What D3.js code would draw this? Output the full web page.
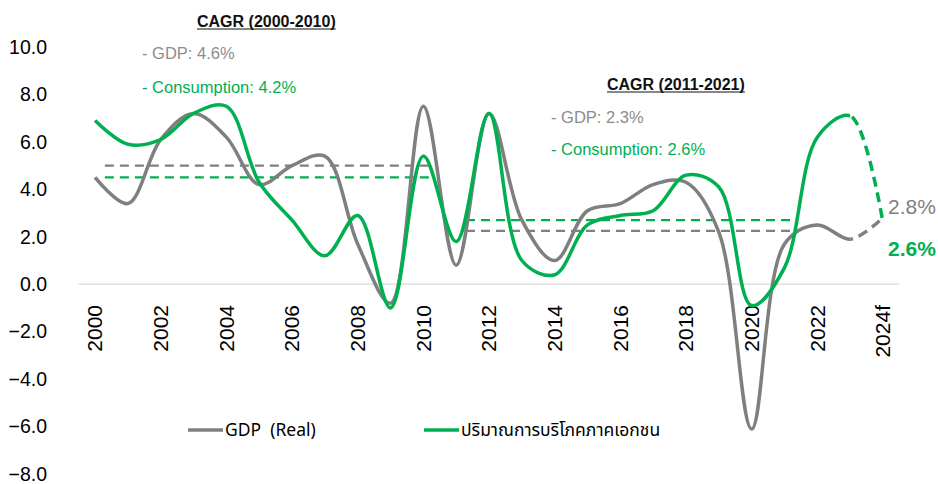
<!DOCTYPE html>
<html>
<head>
<meta charset="utf-8">
<script src="https://cdn.jsdelivr.net/npm/d3@7"></script>
<style>
  body { margin: 0; background: #fff; }
  svg { font-family: "Liberation Sans", Arial, Helvetica, sans-serif; }
</style>
</head>
<body>
<div id="chart"></div>
<script>
// data
const years = [2000, 2001, 2002, 2003, 2004, 2005, 2006, 2007, 2008, 2009, 2010, 2011,
  2012, 2013, 2014, 2015, 2016, 2017, 2018, 2019, 2020, 2021, 2022, 2023, 2024];
const gdp = [4.5, 3.4, 6.1, 7.2, 6.2, 4.2, 5.0, 5.4, 1.7, -0.8, 7.5, 0.8,
  7.2, 2.7, 1.0, 3.1, 3.4, 4.2, 4.3, 2.2, -6.1, 1.7, 2.5, 1.9, 2.8];
const consumption = [6.9, 5.9, 6.1, 7.2, 7.5, 4.3, 2.7, 1.2, 2.9, -1.0, 5.4, 1.8,
  7.2, 1.0, 0.4, 2.5, 2.9, 3.1, 4.6, 4.1, -0.9, 0.7, 6.2, 7.1, 2.6];

const tickYears = [2000, 2002, 2004, 2006, 2008, 2010, 2012, 2014, 2016, 2018, 2020, 2022, 2024];
const tickLabels = ["2000", "2002", "2004", "2006", "2008", "2010", "2012", "2014", "2016", "2018", "2020", "2022", "2024f"];
const yTicks = [-8, -6, -4, -2, 0, 2, 4, 6, 8, 10];

// CAGR boxes
const cagrTitles = ["CAGR (2000-2010)", "CAGR (2011-2021)"];
const cagrGdp = [4.6, 2.3];
const cagrCons = [4.2, 2.6];
const cagrLineGdp = [5.0, 2.25];
const cagrLineCons = [4.5, 2.7];
const cagrFrom = [2000.3, 2011.3];
const cagrTo = [2010.3, 2021.25];

const W = 938, H = 484;
const GREY = "#7f7f7f", GREEN = "#00b050";

const svg = d3.select("#chart").append("svg")
  .attr("width", W)
  .attr("height", H);

const x = d3.scaleLinear().domain([1999.5, 2024.5]).range([78.6, 899.4]);
const y = d3.scaleLinear().domain([-8, 10]).range([474, 47]);

// y labels
svg.append("g").selectAll("text")
  .data(yTicks)
  .enter().append("text")
  .attr("x", 47)
  .attr("y", d => y(d))
  .attr("dy", "0.35em")
  .attr("text-anchor", "end")
  .attr("font-size", 19.5)
  .attr("fill", "#000")
  .text(d => d3.format(".1f")(d));

// zero line
svg.append("line")
  .attr("x1", x.range()[0]).attr("x2", x.range()[1])
  .attr("y1", y(0)).attr("y2", y(0))
  .attr("stroke", "#d9d9d9")
  .attr("stroke-width", 1.2);

// x labels, rotated
svg.append("g").selectAll("text")
  .data(tickYears)
  .enter().append("text")
  .attr("transform", d => `translate(${x(d)},305) rotate(-90)`)
  .attr("dy", "0.35em")
  .attr("text-anchor", "end")
  .attr("font-size", 21)
  .attr("fill", "#000")
  .text((d, i) => tickLabels[i]);

// CAGR dashed levels
const cagrIdx = d3.range(cagrTitles.length);
svg.append("g").selectAll("line")
  .data(cagrIdx)
  .enter().append("line")
  .attr("x1", i => x(cagrFrom[i])).attr("x2", i => x(cagrTo[i]))
  .attr("y1", i => y(cagrLineGdp[i])).attr("y2", i => y(cagrLineGdp[i]))
  .attr("stroke", GREY).attr("stroke-width", 2.2)
  .attr("stroke-dasharray", "9,6");
svg.append("g").selectAll("line")
  .data(cagrIdx)
  .enter().append("line")
  .attr("x1", i => x(cagrFrom[i])).attr("x2", i => x(cagrTo[i]))
  .attr("y1", i => y(cagrLineCons[i])).attr("y2", i => y(cagrLineCons[i]))
  .attr("stroke", GREEN).attr("stroke-width", 2.2)
  .attr("stroke-dasharray", "9,6");

// series: solid up to 2023, dashed forecast after
const splitX = x(2023);
const defs = svg.append("defs");
defs.append("clipPath").attr("id", "clipSolid")
  .append("rect").attr("x", 0).attr("y", 0).attr("width", splitX).attr("height", H);
defs.append("clipPath").attr("id", "clipDash")
  .append("rect").attr("x", splitX).attr("y", 0).attr("width", W - splitX).attr("height", H);

const line = d3.line()
  .x((d, i) => x(years[i]))
  .y(d => y(d))
  .curve(d3.curveCatmullRom.alpha(0.5));

const series = [
  { values: gdp, color: GREY },
  { values: consumption, color: GREEN }
];

series.forEach(s => {
  svg.append("path")
    .attr("d", line(s.values))
    .attr("fill", "none")
    .attr("stroke", s.color)
    .attr("stroke-width", 3.5)
    .attr("stroke-linejoin", "round")
    .attr("clip-path", "url(#clipSolid)");
  svg.append("path")
    .attr("d", line(s.values))
    .attr("fill", "none")
    .attr("stroke", s.color)
    .attr("stroke-width", 3.5)
    .attr("stroke-dasharray", "10,6")
    .attr("clip-path", "url(#clipDash)");
});

// end labels
svg.append("text")
  .attr("x", 888).attr("y", 207).attr("dy", "0.35em")
  .attr("font-size", 21).attr("fill", GREY)
  .text(gdp[gdp.length - 1].toFixed(1) + "%");
svg.append("text")
  .attr("x", 888).attr("y", 249).attr("dy", "0.35em")
  .attr("font-size", 21).attr("font-weight", "bold").attr("fill", GREEN)
  .text(consumption[consumption.length - 1].toFixed(1) + "%");

// CAGR annotations
const cagrPos = [
  { tx: 197, ty: 21, lx: 142, gy: 53, cy: 87 },
  { tx: 607, ty: 84, lx: 551, gy: 117, cy: 149 }
];
cagrIdx.forEach(i => {
  const p = cagrPos[i];
  const t = svg.append("text")
    .attr("x", p.tx).attr("y", p.ty).attr("dy", "0.35em")
    .attr("font-size", 16).attr("font-weight", "bold")
    .attr("fill", "#111")
    .text(cagrTitles[i]);
  const w = t.node().getComputedTextLength();
  svg.append("line")
    .attr("x1", p.tx).attr("x2", p.tx + w)
    .attr("y1", p.ty + 8).attr("y2", p.ty + 8)
    .attr("stroke", "#111").attr("stroke-width", 1.2);
  svg.append("text")
    .attr("x", p.lx).attr("y", p.gy).attr("dy", "0.35em")
    .attr("font-size", 16.5).attr("fill", "#8c8c8c")
    .text("- GDP: " + cagrGdp[i].toFixed(1) + "%");
  svg.append("text")
    .attr("x", p.lx).attr("y", p.cy).attr("dy", "0.35em")
    .attr("font-size", 16.5).attr("fill", GREEN)
    .text("- Consumption: " + cagrCons[i].toFixed(1) + "%");
});

// legend
const legend = [
  { label: "GDP  (Real)", color: GREY, x: 188 },
  { label: "ปริมาณการบริโภคภาคเอกชน", color: GREEN, x: 424 }
];
const lg = svg.append("g").selectAll("g")
  .data(legend)
  .enter().append("g")
  .attr("transform", d => `translate(${d.x},430)`);
lg.append("line")
  .attr("x1", 0).attr("x2", 35)
  .attr("stroke", d => d.color).attr("stroke-width", 3.5);
lg.append("text")
  .attr("x", 37).attr("dy", "0.35em")
  .attr("font-size", 17.5)
  .attr("font-family", "'Noto Sans Thai', 'Liberation Sans', Arial, sans-serif")
  .attr("fill", "#000")
  .style("white-space", "pre")
  .text(d => d.label);
</script>
</body>
</html>
